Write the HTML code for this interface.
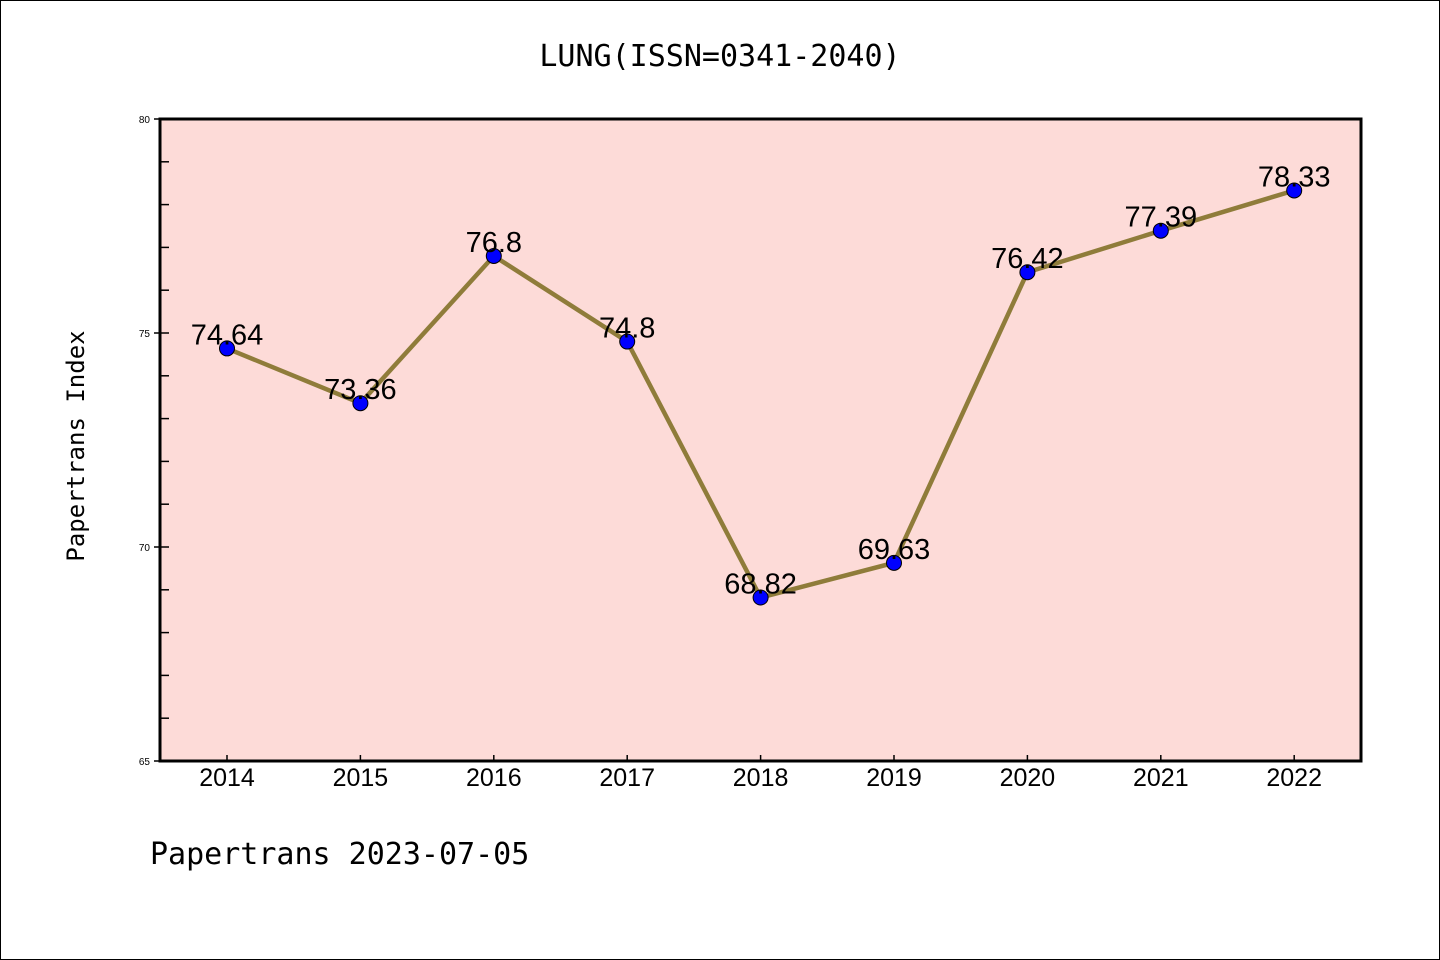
<!DOCTYPE html>
<html><head><meta charset="utf-8"><style>
html,body{margin:0;padding:0;background:#fff;}
svg{display:block;font-family:"Liberation Sans","DejaVu Sans",sans-serif;}
</style></head><body>
<svg id="chart" width="1440" height="960" viewBox="0 0 1440 960">
<rect x="0.5" y="0.5" width="1439" height="959" fill="#fff" stroke="#000" stroke-width="1"/>
<text x="720" y="66" text-anchor="middle" font-size="30" font-family="'DejaVu Sans Mono','Liberation Mono',monospace">LUNG(ISSN=0341-2040)</text>
<rect x="160" y="119" width="1201" height="642" fill="#fddbd8"/>
<g id="axes"></g>
<g id="series"></g>
<rect x="160" y="119" width="1201" height="642" fill="none" stroke="#000" stroke-width="3"/>
<text transform="translate(84,446) rotate(-90)" text-anchor="middle" font-size="24" font-family="'DejaVu Sans Mono','Liberation Mono',monospace">Papertrans Index</text>
<text x="150" y="864" font-size="30" font-family="'DejaVu Sans Mono','Liberation Mono',monospace">Papertrans 2023-07-05</text>
</svg>
<script>
const years = ["2014","2015","2016","2017","2018","2019","2020","2021","2022"];
const values = [74.64,73.36,76.8,74.8,68.82,69.63,76.42,77.39,78.33];
const valueLabels = ["74.64","73.36","76.8","74.8","68.82","69.63","76.42","77.39","78.33"];
const yTicks = [65,70,75,80];
const yMin = 65, yMax = 80;
const NS = "http://www.w3.org/2000/svg";
const x = i => 227 + i * 133.4;
const y = v => 761 - (v - yMin) / (yMax - yMin) * 642;
function mk(tag, attrs, parent){const e=document.createElementNS(NS,tag);for(const k in attrs)e.setAttribute(k,attrs[k]);parent.appendChild(e);return e;}
const axes=document.getElementById('axes'), ser=document.getElementById('series');
for(let v=yMin; v<=yMax; v++){
  const major = yTicks.includes(v);
  const t = mk('line',{x1: major?154:160, x2:169, y1:y(v), y2:y(v), stroke:'#000','stroke-width':1.5},axes);
  
  
}
yTicks.forEach(v=>{
  const t=mk('text',{x:150,y:y(v)+4,'text-anchor':'end','font-size':10},axes);
  t.textContent=v;
  
  
});
years.forEach((yr,i)=>{
  const t=mk('line',{x1:x(i),x2:x(i),y1:755,y2:761,stroke:'#000','stroke-width':1.5},axes);
  
  
  const l=mk('text',{x:x(i),y:786,'text-anchor':'middle','font-size':25},axes);
  l.textContent=yr;
  
  
});
const line=mk('polyline',{points:values.map((v,i)=>x(i)+','+y(v)).join(' '),fill:'none',stroke:'#8f7c3a','stroke-width':4.5,'stroke-linejoin':'round'},ser);


values.forEach((v,i)=>{
  const c=mk('circle',{cx:x(i),cy:y(v),r:7.5,fill:'#0000ff',stroke:'#000','stroke-width':1},ser);
  
  
});
values.forEach((v,i)=>{
  const t=mk('text',{x:x(i),y:y(v)-4,'text-anchor':'middle','font-size':29},ser);
  t.textContent=valueLabels[i];
  
  
});
</script>
</body></html>
